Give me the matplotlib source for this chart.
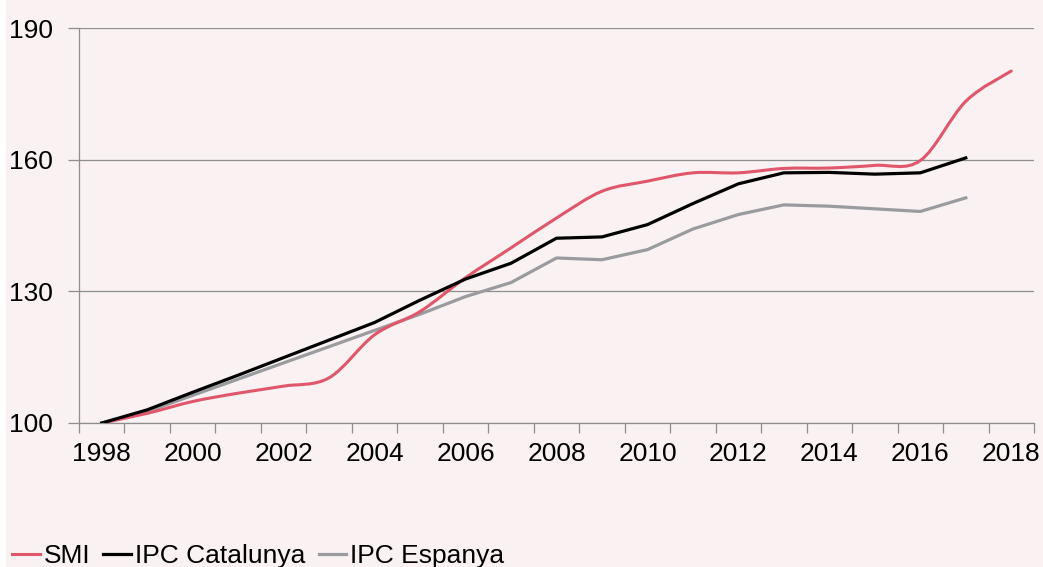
import matplotlib
matplotlib.use("Agg")
import matplotlib.pyplot as plt
from matplotlib.path import Path
from matplotlib.patches import PathPatch, Rectangle
from matplotlib.lines import Line2D

# data
years = list(range(1998, 2019))
smi = [100, 102.2, 104.9, 106.8, 108.4, 110.3, 120.1, 125.4, 133.1, 139.9,
       146.7, 152.8, 155.1, 157.0, 157.0, 158.0, 158.1, 158.7, 159.8, 173.3, 180.2]
ipc_cat = [100, 103.0, 107.0, 110.9, 114.9, 118.9, 122.9, 128.0, 132.8, 136.4,
           142.1, 142.4, 145.2, 150.0, 154.5, 157.0, 157.1, 156.7, 157.0, 160.4]
ipc_esp = [100, 102.6, 106.3, 110.0, 113.7, 117.4, 121.1, 124.8, 128.8, 132.0,
           137.6, 137.2, 139.5, 144.2, 147.5, 149.7, 149.4, 148.8, 148.2, 151.3]

RED = "#e0566a"
BLACK = "#000000"
GRAY = "#9a9b9e"
BG = "#f9f1f2"
GRID = "#8e8e8e"

plt.rcParams["font.family"] = ["Liberation Sans", "DejaVu Sans"]
FS = 19


def smooth_path(ys):
    # Excel-style smoothed line: cubic bezier through each point
    n = len(ys)
    pts = [(i, y) for i, y in enumerate(ys)]
    verts = [pts[0]]
    codes = [Path.MOVETO]
    for i in range(n - 1):
        p0 = pts[i - 1] if i > 0 else pts[i]
        p1 = pts[i]
        p2 = pts[i + 1]
        p3 = pts[i + 2] if i + 2 < n else pts[i + 1]
        c1 = (p1[0] + (p2[0] - p0[0]) / 6, p1[1] + (p2[1] - p0[1]) / 6)
        c2 = (p2[0] - (p3[0] - p1[0]) / 6, p2[1] - (p3[1] - p1[1]) / 6)
        verts += [c1, c2, p2]
        codes += [Path.CURVE4] * 3
    return Path(verts, codes)


fig = plt.figure(figsize=(10.43, 5.67), dpi=100, facecolor=BG)
fig.patches.append(Rectangle((0, 0), 6 / 1043, 1, transform=fig.transFigure,
                             facecolor="white", edgecolor="none"))
ax = fig.add_axes([79 / 1043, 1 - 423 / 567, (1034 - 79) / 1043, (423 - 28) / 567])
ax.set_facecolor(BG)

ax.add_patch(PathPatch(smooth_path(smi), facecolor="none", edgecolor=RED,
                       lw=2.2, capstyle="round", joinstyle="round", zorder=3))
ax.plot(range(len(ipc_cat)), ipc_cat, color=BLACK, lw=2.3, zorder=4)
ax.plot(range(len(ipc_esp)), ipc_esp, color=GRAY, lw=2.3, zorder=2)

ax.set_xlim(-0.5, len(years) - 0.5)
ax.set_ylim(100, 190)
ax.set_yticks([100, 130, 160, 190])
ax.yaxis.grid(True, color=GRID, lw=0.9)
ax.set_axisbelow(True)

ax.set_xticks(range(0, len(years), 2))
ax.set_xticklabels([str(y) for y in years[::2]])
ax.set_xticks([i - 0.5 for i in range(len(years) + 1)], minor=True)
ax.tick_params(axis="x", which="major", length=0, pad=14, labelsize=FS)
ax.tick_params(axis="x", which="minor", length=7, width=0.9, color=GRID)
ax.tick_params(axis="y", length=8, width=0.9, color=GRID, pad=11, labelsize=FS)

for s in ["top", "right"]:
    ax.spines[s].set_visible(False)
for s in ["left", "bottom"]:
    ax.spines[s].set_color(GRID)
    ax.spines[s].set_linewidth(0.9)

handles = [Line2D([], [], color=RED, lw=2.2),
           Line2D([], [], color=BLACK, lw=2.3),
           Line2D([], [], color=GRAY, lw=2.3)]
fig.legend(handles, ["SMI", "IPC Catalunya", "IPC Espanya"], loc="center left",
           bbox_to_anchor=(12 / 1043, 1 - 556 / 567), ncol=3, frameon=False,
           fontsize=FS, handlelength=1.05, handletextpad=0.15, columnspacing=0.5,
           borderpad=0, borderaxespad=0)

fig.savefig("out.png", dpi=100, facecolor=BG)
